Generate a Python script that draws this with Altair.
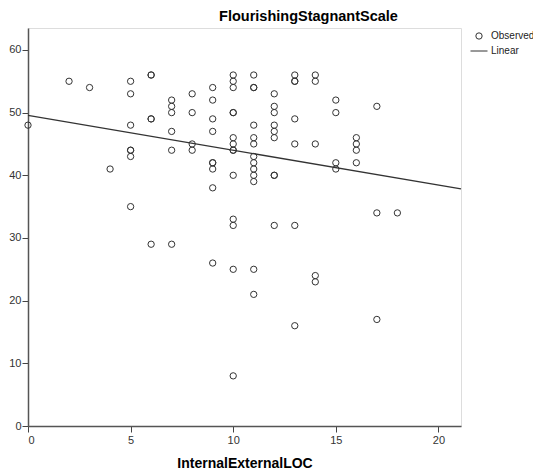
import altair as alt
import pandas as pd

# InternalExternalLOC values and the FlourishingStagnantScale values observed at each
x_levels = [0, 2, 3, 4, 5, 6, 7, 8, 9, 10, 11, 12, 13, 14, 15, 16, 17, 18]
y_by_level = [
    [48],
    [55],
    [54],
    [41],
    [55, 53, 48, 44, 44, 43, 35],
    [56, 56, 49, 49, 29],
    [52, 51, 50, 47, 44, 29],
    [53, 50, 45, 44],
    [54, 52, 49, 47, 42, 42, 41, 38, 26],
    [56, 55, 54, 50, 50, 46, 45, 44, 44, 40, 33, 32, 25, 8],
    [56, 54, 54, 48, 46, 45, 43, 42, 41, 40, 39, 25, 21],
    [53, 51, 50, 48, 47, 46, 40, 40, 32],
    [56, 55, 55, 49, 45, 32, 16],
    [56, 55, 45, 24, 23],
    [52, 50, 42, 41],
    [46, 45, 44, 42],
    [51, 34, 17],
    [34],
]
series_names = ["Observed", "Linear"]
x_ticks = [0, 5, 10, 15, 20]
y_ticks = [0, 10, 20, 30, 40, 50, 60]

xs, ys = [], []
for xv, yl in zip(x_levels, y_by_level):
    for yv in yl:
        xs.append(xv)
        ys.append(yv)
df = pd.DataFrame({"x": xs, "y": ys, "series": "Observed"})

FONT = "Liberation Sans"
DARK = "#333333"

xscale = alt.Scale(domain=[0, 21.1], nice=False, zero=False)
yscale = alt.Scale(domain=[0, 63.5], nice=False, zero=False)

xenc = alt.X("x:Q", scale=xscale,
             axis=alt.Axis(values=x_ticks, title="InternalExternalLOC", grid=False,
                           tickSize=6, tickColor="#444", domainColor="#555", domainWidth=1.5,
                           labelFontSize=11, labelColor="#333", labelFont=FONT, labelPadding=2,
                           titleFont=FONT, titleFontSize=14, titleFontWeight="bold",
                           titleColor="#000", titlePadding=11))
yenc = alt.Y("y:Q", scale=yscale, title=None,
             axis=alt.Axis(values=y_ticks, grid=False,
                           tickSize=6, tickColor="#444", domainColor="#555", domainWidth=1.5,
                           labelFontSize=11, labelColor="#333", labelFont=FONT, labelPadding=1))

legend = alt.Legend(title=None, orient="none", legendX=442, legendY=3,
                    labelFont=FONT, labelFontSize=10, labelColor="#222", labelOffset=3,
                    rowPadding=-2, padding=0, symbolStrokeWidth=1)

color_enc = alt.Color("series:N", scale=alt.Scale(domain=series_names, range=[DARK, DARK]),
                      legend=legend)
shape_enc = alt.Shape("series:N", scale=alt.Scale(domain=series_names, range=["circle", "stroke"]),
                      legend=legend)
size_enc = alt.Size("series:N", scale=alt.Scale(domain=series_names, range=[40, 289]),
                    legend=legend)

points = alt.Chart(df).mark_point(filled=False, strokeWidth=1, opacity=1).encode(
    x=xenc, y=yenc, color=color_enc, shape=shape_enc, size=size_enc
)

line = alt.Chart(df).transform_regression(
    "x", "y", extent=[0, 21.1]
).transform_calculate(series="'Linear'").mark_line(strokeWidth=1.3).encode(
    x=xenc, y=yenc, color=color_enc
)

chart = alt.layer(points, line).properties(
    width=433, height=398,
    title=alt.TitleParams("FlourishingStagnantScale", anchor="middle", dx=64, offset=4,
                          font=FONT, fontSize=14.5, fontWeight="bold", color="#000"),
    autosize=alt.AutoSizeParams(type="none"),
    padding={"left": 20, "top": 20, "right": 72, "bottom": 44},
).configure_view(
    fill="#F0F0F0", stroke="#555", strokeWidth=1
).configure(background="white")

chart.save("out.html", embed_options={"renderer": "svg", "actions": False})
